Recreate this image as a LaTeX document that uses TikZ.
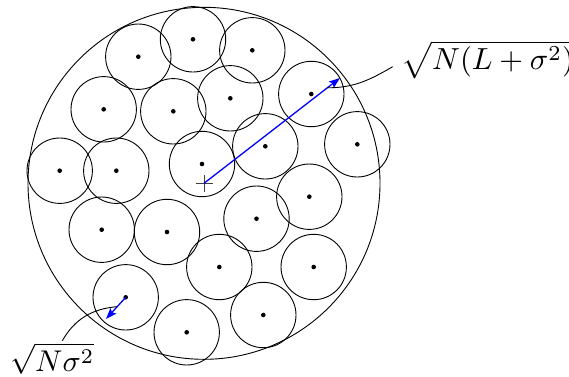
\documentclass[tikz,border=0pt]{standalone}
\usepackage{graphicx}
\usetikzlibrary{arrows.meta,calc}
\begin{document}
\begin{tikzpicture}[x=1pt,y=-1pt,
  disk/.style={circle,draw,line width=0.9pt,minimum size=65.4pt,inner sep=0pt},
  ctr/.style={circle,fill,inner sep=0pt,minimum size=4.6pt},
  ray/.style={blue,line width=1.3pt,-{Stealth[length=11pt,width=8pt,inset=2pt]}},
  lead/.style={line width=0.9pt},
  lbl/.style={inner sep=0pt}]
\useasboundingbox (0,0) rectangle (569,376);
\node[circle,draw,line width=0.9pt,minimum size=352pt,inner sep=0pt] (big) at (204,183.3) {};
\foreach \n/\x/\y in {1/138.3/56.7, 2/193/39.3, 3/252.3/50.3, 4/103.7/109.3,
  5/173.3/111.3, 6/230.3/98.3, 7/311.3/94, 8/265.3/146.3, 9/357.3/144.3,
  10/59.7/170.7, 11/116.3/170.7, 12/202/164, 13/309.3/196.7, 14/101.7/229.7,
  15/167/232, 16/256.5/218.7, 17/219.3/267, 18/313.7/267, 19/125.7/297.3,
  20/186.7/332.3, 21/263.3/315}{
  \node[disk] (c\n) at (\x,\y) {};
  \node[ctr] (d\n) at (c\n.center) {};
}
% centre mark
\draw[line width=0.9pt,black!75] ([xshift=-8.5pt]big.center) -- ([xshift=8.5pt]big.center);
\draw[line width=0.9pt,black!75] ([yshift=-8.5pt]big.center) -- ([yshift=8.5pt]big.center);
% radii
\coordinate (tipR) at (340,78);
\coordinate (tipr) at (106,319);
\draw[ray] (big.center) -- (tipR);
\draw[ray] (c19.center) -- (tipr);
% labels
\node[lbl,anchor=base west] (lab1) at (401.5,69.3) {\scalebox{3.05}{$\sqrt{N(L+\sigma^2)}$}};
\node[lbl,anchor=base west] (lab2) at (10,371.7) {\scalebox{3.0}{$\sqrt{N\sigma^2}$}};
\draw[lead] ($(big.center)!0.907!(tipR)$) to[out=0,in=210] ([xshift=-8.8pt,yshift=2.6pt]lab1.base west);
\draw[lead] ($(c19.center)!0.43!(tipr)$) to[out=185,in=60] ([xshift=52.3pt,yshift=31pt]lab2.base west);
\end{tikzpicture}
\end{document}
